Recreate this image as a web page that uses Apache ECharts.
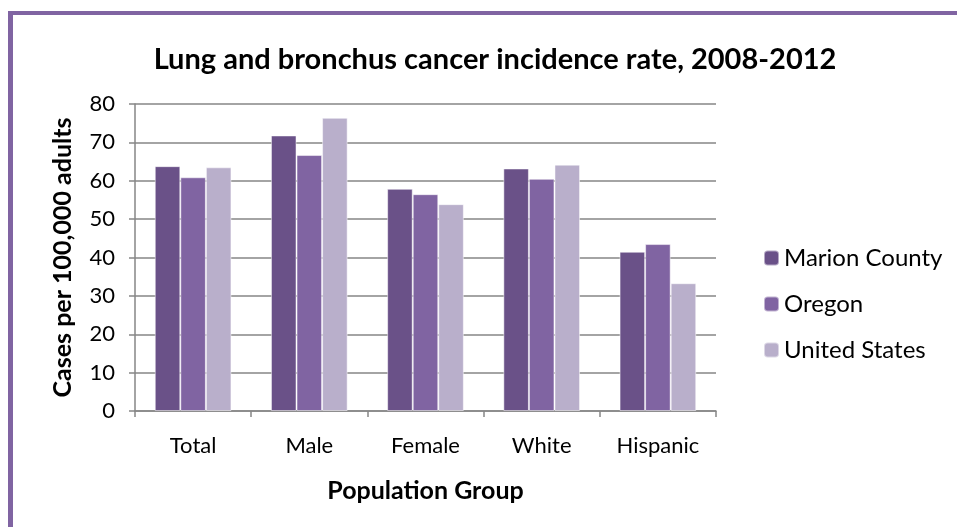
<!DOCTYPE html>
<html>
<head>
<meta charset="utf-8">
<script src="https://cdn.jsdelivr.net/npm/echarts@6/dist/echarts.min.js"></script>
<style>
  html, body { margin: 0; padding: 0; background: #fff; }
  #container { position: absolute; left: 0; top: 0; width: 957px; height: 527px; }
  .edge { position: absolute; background: #8064a2; pointer-events: none; }
</style>
</head>
<body>
<div id="container"></div>
<div class="edge" style="left:8px; top:11px; width:949px; height:4px;"></div>
<div class="edge" style="left:8px; top:11px; width:5px; height:516px;"></div>
<script>
var categories = ['Total', 'Male', 'Female', 'White', 'Hispanic'];
var marionCounty = [63.8, 71.8, 57.9, 63.2, 41.5];
var oregon = [60.9, 66.7, 56.5, 60.5, 43.5];
var unitedStates = [63.5, 76.4, 53.9, 64.2, 33.3];
var yTicks = [0, 10, 20, 30, 40, 50, 60, 70, 80];

var dom = document.getElementById('container');
var myChart = echarts.init(dom, null, { renderer: 'canvas' });

var font = 'Lato, "Open Sans", sans-serif';

function barSeries(name, data, color) {
  return {
    name: name,
    type: 'bar',
    data: data,
    barGap: '0%',
    barCategoryGap: '34%',
    itemStyle: {
      color: color,
      borderColor: 'rgba(255,255,255,0.5)',
      borderWidth: 1
    }
  };
}

var option = {
  animation: false,
  textStyle: { fontFamily: font },
  title: {
    text: 'Lung and bronchus cancer incidence rate, 2008-2012',
    left: 490,
    top: 40,
    textAlign: 'center',
    textStyle: { fontFamily: font, fontSize: 29, fontWeight: 'bold', color: '#000' }
  },
  legend: {
    orient: 'vertical',
    left: 758,
    top: 241,
    itemWidth: 15,
    itemHeight: 15,
    itemGap: 22,
    textStyle: { fontFamily: font, fontSize: 24, color: '#000' },
    data: ['Marion County', 'Oregon', 'United States']
  },
  grid: { left: 135, right: 241, top: 104, bottom: 116 },
  xAxis: {
    type: 'category',
    data: categories,
    name: 'Population Group',
    nameLocation: 'middle',
    nameGap: 67,
    nameTextStyle: { fontFamily: font, fontSize: 25, fontWeight: 'bold', color: '#000' },
    axisLine: { lineStyle: { color: '#868686', width: 1.5 } },
    axisTick: { show: true, length: 6, lineStyle: { color: '#868686', width: 1.5 } },
    axisLabel: { fontFamily: font, fontSize: 22, color: '#000', margin: 24 }
  },
  yAxis: {
    type: 'value',
    min: yTicks[0],
    max: yTicks[yTicks.length - 1],
    interval: 10,
    name: 'Cases per 100,000 adults',
    nameLocation: 'middle',
    nameGap: 60,
    nameTextStyle: { fontFamily: font, fontSize: 25, fontWeight: 'bold', color: '#000' },
    axisLine: { show: true, lineStyle: { color: '#868686', width: 1.5 } },
    axisTick: { show: true, length: 6, lineStyle: { color: '#868686', width: 1.5 } },
    axisLabel: { fontFamily: font, fontSize: 22, color: '#000', margin: 20 },
    splitLine: { lineStyle: { color: '#868686', width: 1.5 } }
  },
  series: [
    barSeries('Marion County', marionCounty, '#6a5188'),
    barSeries('Oregon', oregon, '#8064a2'),
    barSeries('United States', unitedStates, '#b9afcb')
  ]
};

myChart.setOption(option);
</script>
</body>
</html>
